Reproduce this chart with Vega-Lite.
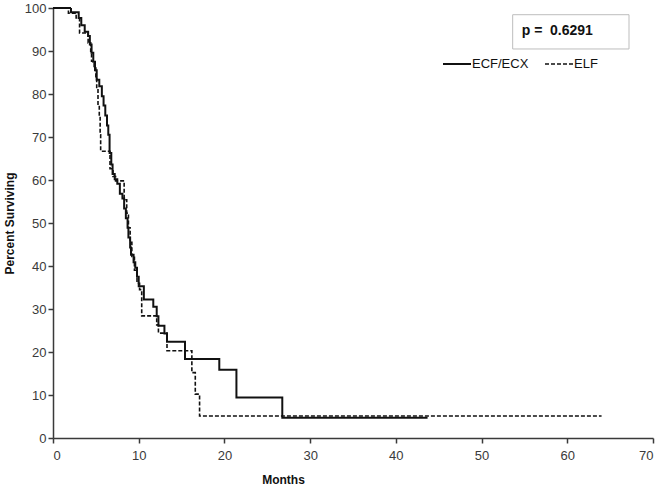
{
  "$schema": "https://vega.github.io/schema/vega-lite/v6.json",
  "width": 600,
  "height": 430,
  "autosize": "none",
  "padding": {"left": 53, "top": 8, "right": 9, "bottom": 52},
  "background": "white",
  "config": {
    "view": {"stroke": null},
    "font": "Liberation Sans",
    "axis": {
      "labelFont": "Liberation Sans",
      "titleFont": "Liberation Sans",
      "domainColor": "#3a3a3a",
      "domainWidth": 1.5,
      "tickColor": "#3a3a3a",
      "tickWidth": 1.5,
      "labelColor": "#3a3a3a",
      "labelFontSize": 13,
      "titleFontSize": 12,
      "titleFontWeight": "bold",
      "titleColor": "#111111",
      "grid": false
    }
  },
  "layer": [
    {
      "data": {
        "values": [
          {"group": "ECF/ECX", "t": 0, "s": 100},
          {"group": "ECF/ECX", "t": 2.1, "s": 99},
          {"group": "ECF/ECX", "t": 3.0, "s": 97.7},
          {"group": "ECF/ECX", "t": 3.3, "s": 96},
          {"group": "ECF/ECX", "t": 3.7, "s": 94.5},
          {"group": "ECF/ECX", "t": 4.1, "s": 93.5},
          {"group": "ECF/ECX", "t": 4.3, "s": 91.5},
          {"group": "ECF/ECX", "t": 4.5, "s": 89.6},
          {"group": "ECF/ECX", "t": 4.7, "s": 87.5},
          {"group": "ECF/ECX", "t": 4.9, "s": 85.5},
          {"group": "ECF/ECX", "t": 5.1, "s": 83.3},
          {"group": "ECF/ECX", "t": 5.4, "s": 81.8},
          {"group": "ECF/ECX", "t": 5.7, "s": 79.5},
          {"group": "ECF/ECX", "t": 5.9, "s": 77.3},
          {"group": "ECF/ECX", "t": 6.1, "s": 75},
          {"group": "ECF/ECX", "t": 6.3, "s": 72.7},
          {"group": "ECF/ECX", "t": 6.45, "s": 70.5},
          {"group": "ECF/ECX", "t": 6.6, "s": 66.3},
          {"group": "ECF/ECX", "t": 6.8, "s": 63.6},
          {"group": "ECF/ECX", "t": 6.95, "s": 61.4},
          {"group": "ECF/ECX", "t": 7.2, "s": 60.2},
          {"group": "ECF/ECX", "t": 7.5, "s": 59.1},
          {"group": "ECF/ECX", "t": 7.8, "s": 56.8},
          {"group": "ECF/ECX", "t": 8.1, "s": 55.7},
          {"group": "ECF/ECX", "t": 8.3, "s": 53.4},
          {"group": "ECF/ECX", "t": 8.5, "s": 51.1},
          {"group": "ECF/ECX", "t": 8.7, "s": 48.9},
          {"group": "ECF/ECX", "t": 8.8, "s": 46.6},
          {"group": "ECF/ECX", "t": 9.0, "s": 44.3},
          {"group": "ECF/ECX", "t": 9.1, "s": 42.6},
          {"group": "ECF/ECX", "t": 9.4, "s": 40.9},
          {"group": "ECF/ECX", "t": 9.6, "s": 39.6},
          {"group": "ECF/ECX", "t": 9.8, "s": 37.5},
          {"group": "ECF/ECX", "t": 10.0, "s": 35.3},
          {"group": "ECF/ECX", "t": 10.6, "s": 32.2},
          {"group": "ECF/ECX", "t": 11.7, "s": 30.5},
          {"group": "ECF/ECX", "t": 12.1, "s": 28.3},
          {"group": "ECF/ECX", "t": 12.3, "s": 26.1},
          {"group": "ECF/ECX", "t": 13.0, "s": 24.3},
          {"group": "ECF/ECX", "t": 13.3, "s": 22.4},
          {"group": "ECF/ECX", "t": 15.4, "s": 18.4},
          {"group": "ECF/ECX", "t": 19.4, "s": 15.9},
          {"group": "ECF/ECX", "t": 21.4, "s": 9.4},
          {"group": "ECF/ECX", "t": 26.75, "s": 4.7},
          {"group": "ECF/ECX", "t": 43.7, "s": 4.7},
          {"group": "ELF", "t": 0, "s": 100},
          {"group": "ELF", "t": 1.8, "s": 98.8},
          {"group": "ELF", "t": 2.7, "s": 97.7},
          {"group": "ELF", "t": 3.1, "s": 94.2},
          {"group": "ELF", "t": 4.1, "s": 91.9},
          {"group": "ELF", "t": 4.4, "s": 89.5},
          {"group": "ELF", "t": 4.5, "s": 87.6},
          {"group": "ELF", "t": 4.8, "s": 86.4},
          {"group": "ELF", "t": 5.0, "s": 84},
          {"group": "ELF", "t": 5.1, "s": 81.5},
          {"group": "ELF", "t": 5.25, "s": 77.3},
          {"group": "ELF", "t": 5.4, "s": 74.8},
          {"group": "ELF", "t": 5.5, "s": 70.5},
          {"group": "ELF", "t": 5.56, "s": 66.7},
          {"group": "ELF", "t": 6.65, "s": 62.6},
          {"group": "ELF", "t": 7.0, "s": 60.8},
          {"group": "ELF", "t": 7.3, "s": 59.8},
          {"group": "ELF", "t": 8.3, "s": 55.4},
          {"group": "ELF", "t": 8.6, "s": 52.3},
          {"group": "ELF", "t": 8.8, "s": 48.9},
          {"group": "ELF", "t": 9.0, "s": 45.5},
          {"group": "ELF", "t": 9.2, "s": 42.2},
          {"group": "ELF", "t": 9.5, "s": 39},
          {"group": "ELF", "t": 9.8, "s": 36},
          {"group": "ELF", "t": 10.1, "s": 34.5},
          {"group": "ELF", "t": 10.35, "s": 28.4},
          {"group": "ELF", "t": 12.1, "s": 26.3},
          {"group": "ELF", "t": 12.3, "s": 24.4},
          {"group": "ELF", "t": 13.3, "s": 20.3},
          {"group": "ELF", "t": 16.2, "s": 15.2},
          {"group": "ELF", "t": 16.6, "s": 10.2},
          {"group": "ELF", "t": 17.1, "s": 5.1},
          {"group": "ELF", "t": 64.0, "s": 5.1}
        ]
      },
      "mark": {"type": "line", "interpolate": "step-after", "color": "#111111"},
      "encoding": {
        "x": {
          "field": "t",
          "type": "quantitative",
          "scale": {"domain": [0, 70], "nice": false, "zero": false},
          "axis": {
            "title": "Months",
            "values": [0, 10, 20, 30, 40, 50, 60, 70],
            "tickSize": 5,
            "labelPadding": 6,
            "titleX": 230,
            "titleY": 36,
            "titleAlign": "center",
            "titleBaseline": "top"
          }
        },
        "y": {
          "field": "s",
          "type": "quantitative",
          "scale": {"domain": [0, 100], "nice": false},
          "axis": {
            "title": "Percent Surviving",
            "values": [0, 10, 20, 30, 40, 50, 60, 70, 80, 90, 100],
            "tickSize": 5,
            "labelPadding": 2,
            "titlePadding": 8
          }
        },
        "strokeDash": {
          "field": "group",
          "type": "nominal",
          "scale": {"domain": ["ECF/ECX", "ELF"], "range": [[1, 0], [4, 2]]},
          "legend": {
            "title": null,
            "orient": "none",
            "direction": "horizontal",
            "legendX": 389,
            "legendY": 41,
            "symbolType": "stroke",
            "symbolSize": 784,
            "symbolStrokeWidth": 2,
            "symbolStrokeColor": "#111111",
            "labelOffset": 0,
            "columnPadding": 12,
            "labelFont": "Liberation Sans",
            "labelFontSize": 13,
            "labelColor": "#111111"
          }
        },
        "strokeWidth": {
          "field": "group",
          "type": "nominal",
          "scale": {"domain": ["ECF/ECX", "ELF"], "range": [2, 1.6]},
          "legend": null
        }
      }
    },
    {
      "data": {"values": [{}]},
      "mark": {"type": "rect", "fill": "white", "stroke": "#bdbdbd", "strokeWidth": 1},
      "encoding": {
        "x": {"datum": 53.63, "type": "quantitative"},
        "x2": {"datum": 67.2},
        "y": {"datum": 98.44, "type": "quantitative"},
        "y2": {"datum": 90.47}
      }
    },
    {
      "data": {"values": [{}]},
      "mark": {"type": "text", "align": "left", "baseline": "middle", "font": "Liberation Sans", "fontSize": 14, "fontWeight": "bold", "color": "#111111"},
      "encoding": {
        "x": {"datum": 54.68, "type": "quantitative"},
        "y": {"datum": 94.56, "type": "quantitative"},
        "text": {"value": "p =\u00a0 0.6291"}
      }
    }
  ]
}
